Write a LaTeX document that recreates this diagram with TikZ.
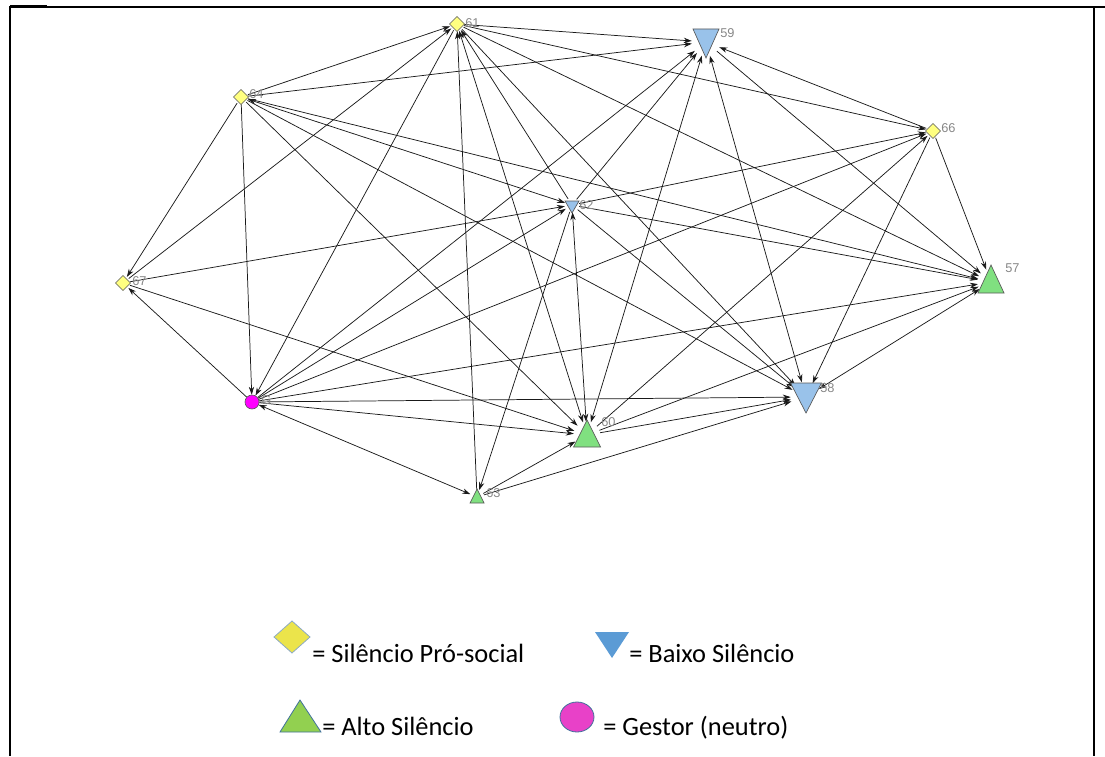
\documentclass[tikz,border=0pt]{standalone}
\usepackage{fontspec}
\newfontfamily\legendfont{Carlito}
\newfontfamily\labelfont{Liberation Sans}
\usetikzlibrary{arrows.meta}
\definecolor{proyel}{RGB}{255,255,128}
\definecolor{lowblue}{RGB}{153,194,234}
\definecolor{highgreen}{RGB}{128,224,128}
\definecolor{gestor}{RGB}{255,0,255}
\definecolor{lgyel}{RGB}{235,228,75}
\definecolor{lgblue}{RGB}{91,155,213}
\definecolor{lggreen}{RGB}{146,208,80}
\definecolor{lgpink}{RGB}{232,65,200}
\definecolor{lgedge}{RGB}{65,113,156}
\definecolor{idgray}{RGB}{135,135,135}
\tikzset{
  hub/.style={circle,inner sep=0pt,minimum size=#1*1.5pt,draw=none},
  edge/.style={draw=black!90,line width=0.55pt},
  one/.style={-{Stealth[length=6pt,width=4pt]}},
  two/.style={{Stealth[length=6pt,width=4pt]}-{Stealth[length=6pt,width=4pt]}},
  shapeline/.style={draw=black!65,line width=0.5pt},
  idlabel/.style={anchor=west,inner sep=0pt,text=idgray,font=\labelfont\fontsize{9.6}{11}\selectfont},
  legendtext/.style={anchor=base west,inner sep=0pt,font=\legendfont\fontsize{19.8}{24}\selectfont},
  pics/dia/.style={code={\filldraw[shapeline,fill=proyel] (-7.5,0)--(0,-7.5)--(7.5,0)--(0,7.5)--cycle;}},
  pics/downtri/.style args={#1/#2/#3}{code={\filldraw[shapeline,fill=lowblue] (-#1,-#2)--(#1,-#2)--(0,#3)--cycle;}},
  pics/uptri/.style args={#1/#2/#3}{code={\filldraw[shapeline,fill=highgreen] (-#1,#3)--(#1,#3)--(0,-#2)--cycle;}},
}
\begin{document}
\begin{tikzpicture}[x=0.75pt,y=-0.75pt]
\useasboundingbox (0,0) rectangle (1105,756);

% frame
\draw[line width=1.2pt] (10,7) -- (1105,7);
\draw[line width=2.2pt] (10,6) -- (47,6);
\draw[line width=2.2pt] (10,6) -- (10,756);
\draw[line width=1.2pt] (1094,7) -- (1094,756);

% network nodes (connection areas)
\node[hub=7]  (n61) at (457,24) {};
\node[hub=14] (n59) at (706,42) {};
\node[hub=7]  (n64) at (241,97) {};
\node[hub=7]  (n66) at (933,131) {};
\node[hub=7]  (n62) at (572,205) {};
\node[hub=7]  (n67) at (123,283) {};
\node[hub=13] (n57) at (991,282) {};
\node[hub=7]  (nG)  at (252,402) {};
\node[hub=15] (n58) at (806,397) {};
\node[hub=13] (n60) at (587,435) {};
\node[hub=7]  (n63) at (477,497) {};

% ties
\foreach \a/\b/\t in {
  61/59/one, 61/66/one, 61/57/one, 61/58/one, 61/60/two, 63/61/one,
  62/61/one, 64/61/one, 67/61/one, 61/G/one,
  64/59/one, 64/62/two, 64/57/one, 64/58/one, 64/60/one, 64/67/one, 64/G/one,
  66/59/one, 66/57/one, 66/58/one, 62/66/one, G/66/one, 60/66/one,
  67/62/one, 67/60/one, G/67/one,
  G/59/one, G/62/one, G/57/one, G/58/one, G/60/one, G/63/two,
  62/57/one, 62/58/one, 62/60/two, 62/63/one, 62/59/one,
  59/58/two, 59/60/two, 59/57/one,
  60/58/one, 60/57/one, 63/60/one, 63/58/one, 58/57/two}
  \draw[edge,\t] (n\a) -- (n\b);

% node symbols
\pic at (n61) {dia};
\pic at (n64) {dia};
\pic at (n66) {dia};
\pic at (n67) {dia};
\pic at (n59) {downtri=13/13/16};
\pic at (n58) {downtri=15.5/14/16};
\pic at (n62) {downtri=7/4/8};
\pic at (n57) {uptri=13/17/11};
\pic at (n60) {uptri=13.5/15/12};
\pic at (n63) {uptri=7/8/6};
\filldraw[shapeline,fill=gestor] (nG) circle[radius=7];

% identifiers
\node[idlabel] (l61) at (465,23) {61};
\node[idlabel] (l59) at (720,33) {59};
\node[idlabel] (l64) at (249,94) {64};
\node[idlabel] (l66) at (941,128) {66};
\node[idlabel] (l62) at (579,205) {62};
\node[idlabel] (l67) at (132,281) {67};
\node[idlabel] (l57) at (1005,268) {57};
\node[idlabel] (lG)  at (261,400) {G};
\node[idlabel] (l60) at (601,422) {60};
\node[idlabel] (l58) at (820,388) {58};
\node[idlabel] (l63) at (486,493) {63};

% legend
\filldraw[draw=lgedge!60,line width=0.6pt,fill=lgyel] (274,637)--(292,621)--(310,637)--(292,653)--cycle;
\node[legendtext] (t1) at (312,662) {= Silêncio Pró-social};
\fill[lgblue] (595,632)--(629,632)--(612,658)--cycle;
\node[legendtext] (t2) at (629,662) {= Baixo Silêncio};
\filldraw[draw=lgedge,line width=0.6pt,fill=lggreen] (280,732)--(321,732)--(300,700)--cycle;
\node[legendtext] (t3) at (322,735) {= Alto Silêncio};
\filldraw[draw=lgedge,line width=0.6pt,fill=lgpink] (577,717) ellipse[x radius=17,y radius=15];
\node[legendtext] (t4) at (603,735) {= Gestor (neutro)};
\end{tikzpicture}
\end{document}
